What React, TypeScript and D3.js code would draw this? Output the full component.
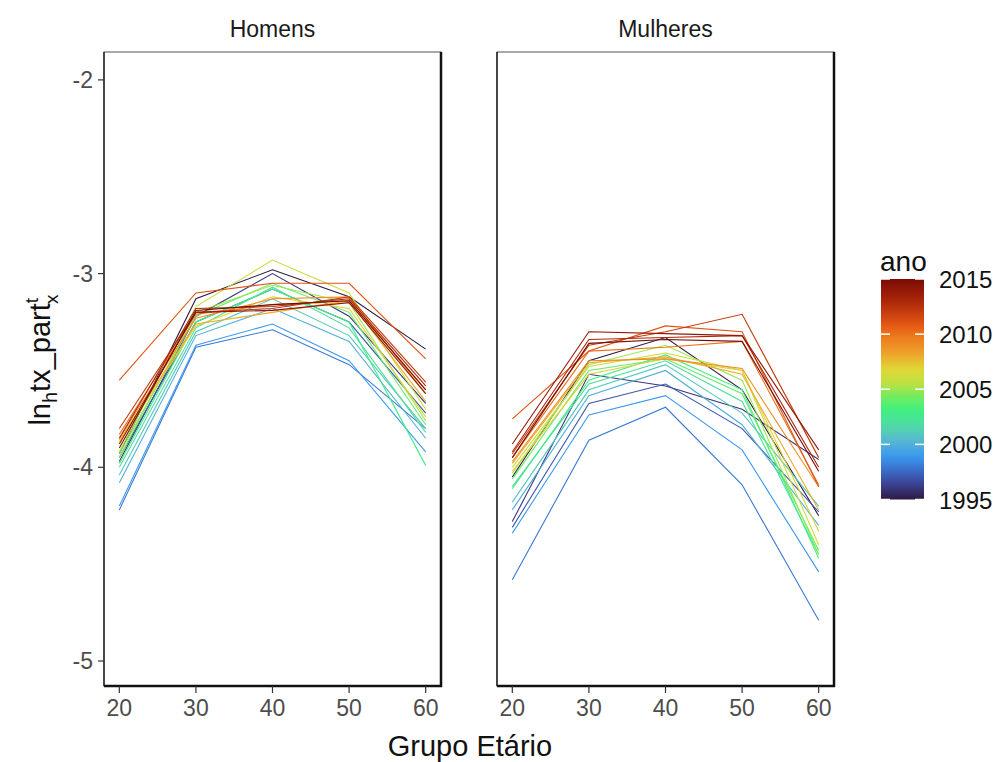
import React from 'react';
import * as d3 from 'd3';

const idades = [20, 30, 40, 50, 60];
const anos = [1995, 1996, 1997, 1998, 1999, 2000, 2001, 2002, 2003, 2004, 2005, 2006, 2007, 2008, 2009, 2010, 2011, 2012, 2013, 2014, 2015];
const paineis = ['Homens', 'Mulheres'];
const yTicks = [-2, -3, -4, -5];
const xTicks = [20, 30, 40, 50, 60];
const legendTicks = [1995, 2000, 2005, 2010, 2015];

// one row per year (1995..2015), values at ages 20..60
const homens = [
  [-3.93, -3.13, -2.98, -3.12, -3.39],
  [-3.97, -3.22, -3.0, -3.22, -3.67],
  [-3.95, -3.25, -3.08, -3.25, -3.72],
  [-4.22, -3.38, -3.29, -3.47, -3.8],
  [-4.2, -3.37, -3.26, -3.45, -3.92],
  [-4.08, -3.32, -3.18, -3.35, -3.85],
  [-4.04, -3.3, -3.13, -3.32, -3.8],
  [-4.0, -3.28, -3.07, -3.28, -3.82],
  [-3.98, -3.25, -3.08, -3.25, -3.99],
  [-3.93, -3.22, -3.05, -3.2, -3.78],
  [-3.95, -3.2, -3.06, -3.15, -3.76],
  [-3.92, -3.17, -2.93, -3.1, -3.7],
  [-3.87, -3.27, -3.12, -3.18, -3.74],
  [-3.86, -3.26, -3.2, -3.14, -3.66],
  [-3.85, -3.23, -3.13, -3.12, -3.62],
  [-3.83, -3.21, -3.16, -3.14, -3.6],
  [-3.55, -3.1, -3.05, -3.05, -3.44],
  [-3.8, -3.2, -3.18, -3.12, -3.56],
  [-3.85, -3.18, -3.17, -3.13, -3.58],
  [-3.88, -3.2, -3.19, -3.15, -3.62],
  [-3.9, -3.19, -3.16, -3.14, -3.6],
];

const mulheres = [
  [-4.05, -3.45, -3.33, -3.6, -4.25],
  [-4.28, -3.52, -3.58, -3.7, -3.96],
  [-4.31, -3.67, -3.57, -3.8, -4.23],
  [-4.58, -3.86, -3.69, -4.09, -4.79],
  [-4.34, -3.73, -3.63, -3.91, -4.54],
  [-4.22, -3.63, -3.5, -3.78, -4.3],
  [-4.18, -3.6, -3.47, -3.72, -4.2],
  [-4.1, -3.57, -3.45, -3.66, -4.45],
  [-4.11, -3.55, -3.42, -3.6, -4.47],
  [-4.06, -3.5, -3.44, -3.62, -4.43],
  [-4.03, -3.47, -3.37, -3.55, -4.45],
  [-4.0, -3.48, -3.41, -3.5, -4.4],
  [-4.02, -3.52, -3.44, -3.5, -4.33],
  [-3.98, -3.46, -3.43, -3.52, -4.22],
  [-3.97, -3.45, -3.44, -3.49, -4.1],
  [-3.95, -3.4, -3.38, -3.35, -4.09],
  [-3.75, -3.4, -3.27, -3.3, -4.1],
  [-3.93, -3.37, -3.3, -3.21, -3.95],
  [-3.92, -3.34, -3.33, -3.32, -4.0],
  [-3.88, -3.3, -3.31, -3.32, -3.91],
  [-3.95, -3.36, -3.34, -3.35, -4.02],
];

const colorStopAnos = [1995, 1996.2, 1997.4, 1998.9, 2000.4, 2001.6, 2003.1, 2004.3, 2005.6, 2006.8, 2008.3, 2009.8, 2010.7, 2012.8, 2015];
const colorStopCores = ['#2c1a40', '#3a3c88', '#3c64c0', '#3a98f0', '#58b8d0', '#50d8a8', '#40f080', '#70ec60', '#c0e040', '#e0d838', '#eea02a', '#ec7a1c', '#e85a15', '#b02a0a', '#7a0a05'];

const W = 995;
const H = 762;
const FONT = "'Liberation Sans', Arial, sans-serif";
const panelXs: [number, number][] = [[104, 441], [497, 834]];
const top = 52;
const bottom = 686;

export default function App() {
  const y = d3.scaleLinear().domain([-5.129, -1.856]).range([bottom, top]);
  const color = d3.scaleLinear<string>().domain(colorStopAnos).range(colorStopCores).interpolate(d3.interpolateRgb);
  const dados = [homens, mulheres];

  const legX = 881;
  const legW = 43;
  const legY = d3.scaleLinear().domain([1995, 2015]).range([499.5, 279]);
  const gradStops = d3.range(0, 1.0001, 0.02).map((t) => 1995 + t * 20);

  return (
    <svg width={W} height={H} style={{ position: 'absolute', left: 0, top: 0, background: '#fff' }} fontFamily={FONT}>
      <defs>
        <linearGradient id="leg" x1="0" y1="1" x2="0" y2="0">
          {gradStops.map((a, i) => (
            <stop key={i} offset={(a - 1995) / 20} stopColor={color(a)} />
          ))}
        </linearGradient>
      </defs>
      <rect width={W} height={H} fill="#fff" />
      {paineis.map((nome, pi) => {
        const [x0, x1] = panelXs[pi];
        const x = d3.scaleLinear().domain([18, 62]).range([x0, x1]);
        const line = d3.line<number>().x((_, i) => x(idades[i])).y((v) => y(v));
        return (
          <g key={nome}>
            <text x={(x0 + x1) / 2} y={37} textAnchor="middle" fontSize={23} fill="#1a1a1a">{nome}</text>
            {dados[pi].map((row, ai) => (
              <path key={ai} d={line(row) || ''} fill="none" stroke={color(anos[ai])} strokeWidth={1.1} />
            ))}
            <rect x={x0} y={top} width={x1 - x0} height={bottom - top} fill="none" stroke="#555" strokeWidth={1} />
            <line x1={x0} x2={x0} y1={top} y2={bottom} stroke="#111" strokeWidth={1.3} />
            <line x1={x1} x2={x1} y1={top} y2={bottom + 1} stroke="#111" strokeWidth={2.5} />
            <line x1={x0} x2={x1 + 1} y1={bottom} y2={bottom} stroke="#111" strokeWidth={2.5} />
            {xTicks.map((t) => (
              <g key={t}>
                <line x1={x(t)} x2={x(t)} y1={bottom} y2={bottom + 7} stroke="#333" strokeWidth={1.2} />
                <text x={x(t)} y={716} textAnchor="middle" fontSize={23} fill="#4d4d4d">{t}</text>
              </g>
            ))}
            {pi === 0 && yTicks.map((t) => (
              <g key={t}>
                <line x1={x0 - 6} x2={x0} y1={y(t)} y2={y(t)} stroke="#333" strokeWidth={1.2} />
                <text x={x0 - 11} y={y(t) + 8} textAnchor="end" fontSize={23} fill="#4d4d4d">{t}</text>
              </g>
            ))}
          </g>
        );
      })}
      <text x={470} y={756} textAnchor="middle" fontSize={29} fill="#111">Grupo Etário</text>
      <text transform={`translate(50,360) rotate(-90)`} textAnchor="middle" fontSize={29} fill="#111">
        ln<tspan fontSize={20} dy={7}>h</tspan>
        <tspan dy={-7}>tx_part</tspan>
        <tspan fontSize={19} dy={-12}>t</tspan>
        <tspan fontSize={19} dx={-6} dy={20}>x</tspan>
      </text>
      <text x={legX - 1} y={271} fontSize={28} fill="#111">ano</text>
      <rect x={legX} y={legY(2015)} width={legW} height={legY(1995) - legY(2015)} fill="url(#leg)" />
      {legendTicks.map((t) => (
        <g key={t}>
          <line x1={legX} x2={legX + 9} y1={legY(t)} y2={legY(t)} stroke="#fff" strokeWidth={1.5} />
          <line x1={legX + legW - 9} x2={legX + legW} y1={legY(t)} y2={legY(t)} stroke="#fff" strokeWidth={1.5} />
          <text x={939} y={legY(t) + 9} fontSize={24} fill="#111">{t}</text>
        </g>
      ))}
    </svg>
  );
}
